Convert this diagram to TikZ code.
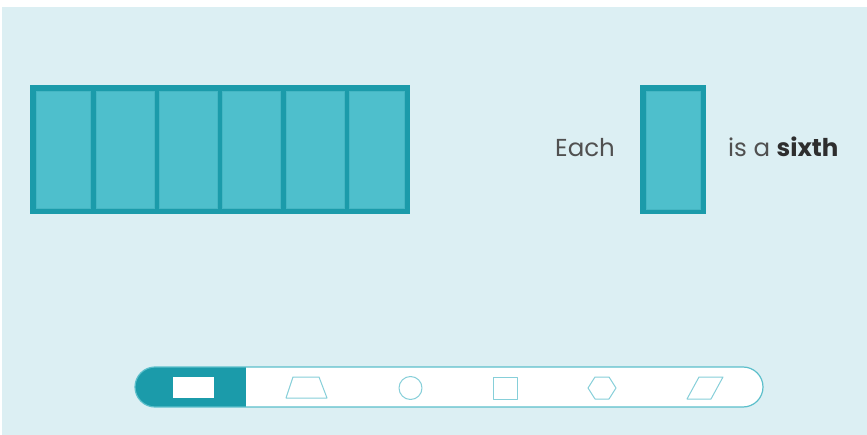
\documentclass[tikz,border=0pt]{standalone}
\usepackage{fontspec}
\setmainfont{Poppins}
\definecolor{bg}{HTML}{DCEFF3}
\definecolor{dark}{HTML}{1B9BAA}
\definecolor{cell}{HTML}{4EBFCC}
\definecolor{cellline}{HTML}{45B6C3}
\definecolor{icon}{HTML}{86CFD9}
\definecolor{barline}{HTML}{5CBFCB}
\definecolor{txt}{HTML}{505050}
\definecolor{txtb}{HTML}{2E2E2E}
\begin{document}
\begin{tikzpicture}[x=1pt,y=-1pt,
  darkbox/.style={fill=dark},
  cellbox/.style={fill=cell,draw=cellline,line width=0.8pt},
  iconline/.style={draw=icon,line width=1pt,line join=round},
  label/.style={font=\fontsize{24.5}{29}\selectfont,text=txt,inner sep=0pt,anchor=base west}]
\useasboundingbox (0,0) rectangle (867,435);
\fill[white] (0,0) rectangle (867,435);
\fill[bg] (2,7) rectangle (867,435);
% big rectangle split in sixths
\fill[darkbox] (30,85) rectangle (410,214);
\foreach \i in {0,...,5}{
  \pgfmathsetmacro{\l}{30+63.333*\i+(\i==0?6.5:2.75)}
  \pgfmathsetmacro{\r}{30+63.333*(\i+1)-(\i==5?6:2.75)}
  \draw[cellbox] (\l,91.5) rectangle (\r,208.5);
}
% one sixth
\fill[darkbox] (640,85) rectangle (706,214);
\draw[cellbox] (646,91.5) rectangle (700,209.5);
\node[label] (each) at (555,157) {Each};
\node[label] (sixth) at (728,157) {is a \textcolor{txtb}{\textbf{sixth}}};
% bottom bar
\begin{scope}
\clip[rounded corners=20pt] (135,367) rectangle (763,407);
\fill[white] (135,367) rectangle (763,407);
\fill[dark] (135,367) rectangle (246,407);
\end{scope}
\draw[barline,line width=1.2pt,rounded corners=20pt] (135,367) rectangle (763,407);
\fill[white] (173,377) rectangle (214,398);
\draw[iconline] (286,398) -- (293,377) -- (319,377) -- (327,398) -- cycle;
\draw[iconline] (410.5,388) circle (11.5);
\draw[iconline] (493,377) rectangle (517,399);
\draw[iconline] (588,388) -- (595,377) -- (609,377) -- (616,388) -- (609,399) -- (595,399) -- cycle;
\draw[iconline] (687,399) -- (699,377) -- (723,377) -- (711,399) -- cycle;
\end{tikzpicture}
\end{document}
